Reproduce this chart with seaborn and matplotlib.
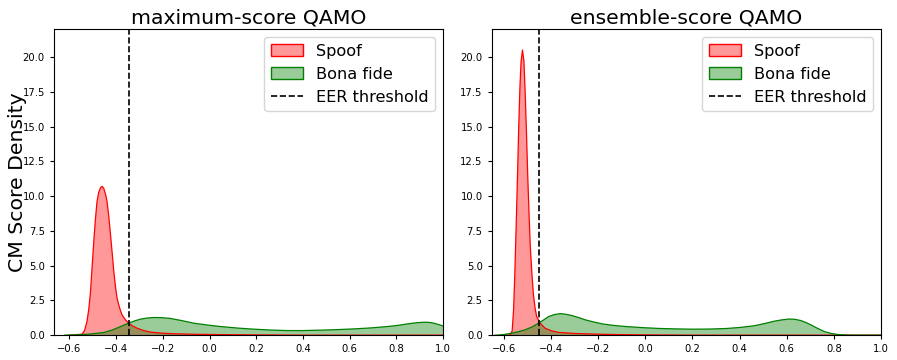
import matplotlib
matplotlib.use("Agg")
import matplotlib.pyplot as plt
import seaborn as sns
from matplotlib.colors import to_rgba
from matplotlib.lines import Line2D
from matplotlib.patches import Patch


# density curves
MAX_SPOOF_X = [-0.60, -0.546, -0.535, -0.525, -0.517, -0.51, -0.503, -0.496,
               -0.489, -0.482, -0.475, -0.467, -0.460, -0.453, -0.445, -0.439,
               -0.432, -0.424, -0.417, -0.410, -0.403, -0.396, -0.386, -0.375,
               -0.36, -0.346, -0.33, -0.31, -0.28, -0.253, -0.20, -0.153,
               -0.05, 0.05, 0.19, 0.40, 1.0]
MAX_SPOOF_Y = [0.0, 0.07, 0.35, 0.98, 1.9, 3.1, 4.9, 6.7,
               8.3, 9.6, 10.25, 10.6, 10.7, 10.55, 10.1, 9.6,
               8.6, 7.2, 5.9, 4.57, 3.5, 2.65, 2.0, 1.46,
               1.1, 0.86, 0.66, 0.5, 0.32, 0.22, 0.14, 0.1,
               0.06, 0.04, 0.02, 0.0, 0.0]

MAX_BONA_X = [-0.62, -0.58, -0.52, -0.453, -0.415, -0.381, -0.342, -0.318,
              -0.296, -0.268, -0.239, -0.205, -0.167, -0.12, -0.067, -0.01,
              0.047, 0.12, 0.19, 0.26, 0.333, 0.40, 0.476, 0.55,
              0.618, 0.69, 0.761, 0.81, 0.847, 0.885, 0.919, 0.94,
              0.961, 0.98, 1.0]
MAX_BONA_Y = [0.0, 0.02, 0.07, 0.19, 0.38, 0.62, 0.9, 1.04,
              1.15, 1.23, 1.27, 1.26, 1.2, 1.05, 0.86, 0.73,
              0.62, 0.51, 0.43, 0.37, 0.33, 0.33, 0.36, 0.4,
              0.45, 0.52, 0.62, 0.71, 0.81, 0.89, 0.93, 0.92,
              0.86, 0.77, 0.66]

ENS_SPOOF_X = [-0.60, -0.575, -0.566, -0.560, -0.555, -0.549, -0.543, -0.538,
               -0.533, -0.528, -0.522, -0.516, -0.511, -0.505, -0.500, -0.494,
               -0.489, -0.482, -0.476, -0.469, -0.462, -0.447, -0.426, -0.40,
               -0.369, -0.30, -0.20, -0.11, 0.0, 0.2, 1.0]
ENS_SPOOF_Y = [0.0, 0.0, 0.3, 1.8, 4.2, 7.8, 11.6, 15.0,
               17.8, 19.7, 20.5, 19.7, 17.6, 14.5, 11.6, 8.6,
               6.4, 4.4, 3.0, 2.0, 1.34, 0.86, 0.5, 0.32,
               0.2, 0.12, 0.07, 0.04, 0.02, 0.0, 0.0]

ENS_BONA_X = [-0.64, -0.626, -0.60, -0.569, -0.54, -0.512, -0.483, -0.454,
              -0.432, -0.411, -0.386, -0.362, -0.337, -0.312, -0.283, -0.255,
              -0.22, -0.183, -0.135, -0.083, -0.01, 0.06, 0.13, 0.203,
              0.275, 0.345, 0.405, 0.46, 0.505, 0.546, 0.58, 0.61,
              0.635, 0.66, 0.683, 0.703, 0.73, 0.76, 0.79, 0.817,
              0.85, 0.89, 1.0]
ENS_BONA_Y = [0.0, 0.01, 0.05, 0.14, 0.25, 0.38, 0.58, 0.86,
              1.1, 1.34, 1.48, 1.55, 1.5, 1.41, 1.26, 1.1,
              0.95, 0.81, 0.7, 0.62, 0.54, 0.48, 0.45, 0.43,
              0.44, 0.48, 0.56, 0.67, 0.83, 1.0, 1.1, 1.16,
              1.14, 1.05, 0.9, 0.74, 0.5, 0.26, 0.12, 0.05,
              0.015, 0.0, 0.0]

EER_THRESHOLDS = [-0.345, -0.453]
TITLES = ["maximum-score QAMO", "ensemble-score QAMO"]
X_LIMITS = [(-0.667, 1.0), (-0.653, 1.0)]

SPOOF_COLOR = "red"
BONA_COLOR = "green"


def draw_density(ax, x, y, color):
    """Draw one filled density curve."""
    ax.fill_between(x, y, 0, facecolor=to_rgba(color, 0.4), linewidth=0)
    sns.lineplot(x=x, y=y, color=color, linewidth=0.9, ax=ax,
                 legend=False, estimator=None)


fig, axes = plt.subplots(1, 2, figsize=(8.97, 3.6), dpi=100)
fig.subplots_adjust(left=0.060, right=0.982, bottom=0.069, top=0.919,
                    wspace=0.125)

panels = [
    (MAX_SPOOF_X, MAX_SPOOF_Y, MAX_BONA_X, MAX_BONA_Y),
    (ENS_SPOOF_X, ENS_SPOOF_Y, ENS_BONA_X, ENS_BONA_Y),
]

for i, ax in enumerate(axes):
    sx, sy, bx, by = panels[i]
    draw_density(ax, sx, sy, SPOOF_COLOR)
    draw_density(ax, bx, by, BONA_COLOR)
    ax.axvline(EER_THRESHOLDS[i], color="black", linestyle="--", linewidth=1.2)

    ax.set_xlim(*X_LIMITS[i])
    ax.set_ylim(0, 22)
    ax.set_xticks([-0.6, -0.4, -0.2, 0.0, 0.2, 0.4, 0.6, 0.8, 1.0])
    ax.set_yticks([0.0, 2.5, 5.0, 7.5, 10.0, 12.5, 15.0, 17.5, 20.0])
    ax.tick_params(labelsize=7.2, length=3)
    ax.set_title(TITLES[i], fontsize=14.7, pad=4)
    ax.set_xlabel("")
    ax.set_ylabel("")

    handles = [
        Patch(facecolor=to_rgba(SPOOF_COLOR, 0.4), edgecolor=SPOOF_COLOR, label="Spoof"),
        Patch(facecolor=to_rgba(BONA_COLOR, 0.4), edgecolor=BONA_COLOR, label="Bona fide"),
        Line2D([0], [0], color="black", linestyle="--", linewidth=1.2, label="EER threshold"),
    ]
    ax.legend(handles=handles, loc="upper right", fontsize=11.6)

axes[0].set_ylabel("CM Score Density", fontsize=14.7)
axes[0].yaxis.set_label_coords(-0.07, 0.5)

plt.savefig("out.png", dpi=100)
plt.close()
